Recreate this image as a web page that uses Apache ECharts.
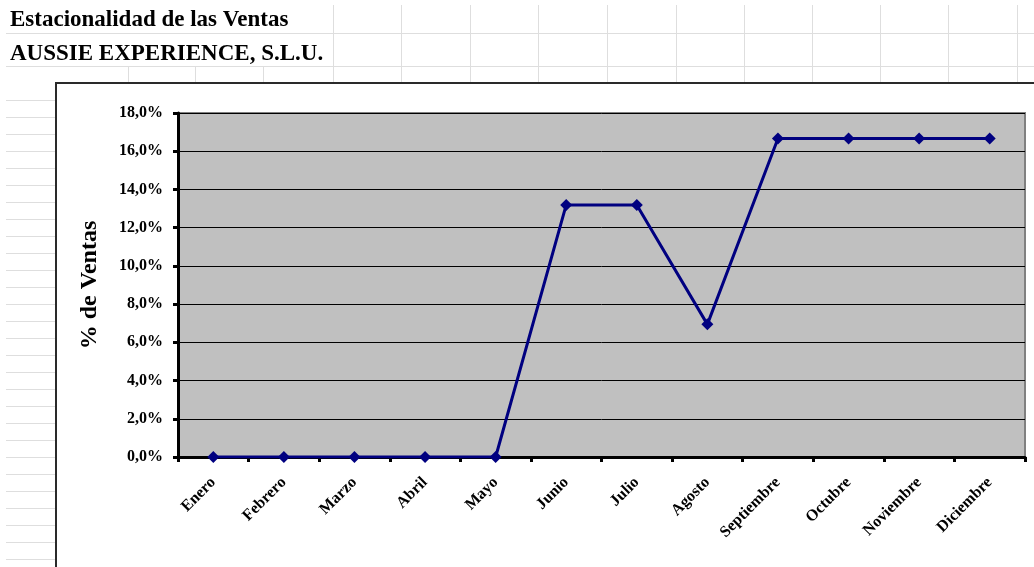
<!DOCTYPE html>
<html>
<head>
<meta charset="utf-8">
<script src="https://cdn.jsdelivr.net/npm/echarts@6/dist/echarts.min.js"></script>
<style>
  html, body { margin: 0; padding: 0; background: #ffffff; }
  #chart { width: 1034px; height: 567px; }
</style>
</head>
<body>
<div id="chart"></div>
<script>
// Monthly share of yearly sales (%)
const months = ['Enero', 'Febrero', 'Marzo', 'Abril', 'Mayo', 'Junio', 'Julio',
  'Agosto', 'Septiembre', 'Octubre', 'Noviembre', 'Diciembre'];
const ventasPct = [0, 0, 0, 0, 0, 13.19, 13.19, 6.94, 16.67, 16.67, 16.67, 16.67];
const titleLines = ['Estacionalidad de las Ventas', 'AUSSIE EXPERIENCE, S.L.U.'];
const axisName = '% de Ventas';
const yMin = 0, yMax = 18, yStep = 2;

const SERIF = '"Liberation Serif", "Times New Roman", serif';
const CELL = '#dedede';

// worksheet cell borders around the embedded chart
const sheet = [];
const hLine = (x1, x2, y) => sheet.push({ type: 'line', z: -20, silent: true,
  shape: { x1, y1: y + 0.5, x2, y2: y + 0.5 }, style: { stroke: CELL, lineWidth: 1 } });
const vLine = (x, y1, y2) => sheet.push({ type: 'line', z: -20, silent: true,
  shape: { x1: x + 0.5, y1, x2: x + 0.5, y2 }, style: { stroke: CELL, lineWidth: 1 } });

hLine(6, 1034, 33);
hLine(6, 1034, 66);
[333, 401, 470, 538, 607, 676, 744, 812, 880, 948, 1017].forEach(x => vLine(x, 5, 83));
[128, 195, 263].forEach(x => vLine(x, 66, 83));
for (let y = 100; y < 567; y += 17) hLine(6, 55, y);

// chart frame
sheet.push({ type: 'rect', z: -10, silent: true,
  shape: { x: 56, y: 83, width: 1010, height: 520 },
  style: { fill: '#ffffff', stroke: '#2a2a2a', lineWidth: 2 } });

// sheet headings
titleLines.forEach((t, i) => sheet.push({ type: 'text', z: 5, silent: true,
  x: 10, y: 20 + i * 34,
  style: { text: t, font: 'bold 23px ' + SERIF, fill: '#000', verticalAlign: 'middle', align: 'left' } }));

const chart = echarts.init(document.getElementById('chart'), null, { renderer: 'canvas' });
chart.setOption({
  animation: false,
  backgroundColor: '#ffffff',
  graphic: sheet,
  grid: {
    left: 178, right: 9, top: 113, bottom: 110,
    show: true, backgroundColor: '#c0c0c0', borderColor: '#808080', borderWidth: 2
  },
  xAxis: {
    type: 'category',
    data: months,
    boundaryGap: true,
    axisLine: { show: true, lineStyle: { color: '#000', width: 3 } },
    axisTick: { show: true, length: 5, lineStyle: { color: '#000', width: 3 } },
    axisLabel: {
      rotate: 45, margin: 23, interval: 0,
      fontFamily: SERIF, fontWeight: 'bold', fontSize: 16, color: '#000'
    },
    splitLine: { show: false }
  },
  yAxis: {
    type: 'value',
    min: yMin, max: yMax, interval: yStep,
    name: axisName,
    nameLocation: 'middle',
    nameGap: 76,
    nameRotate: 90,
    nameTextStyle: { fontFamily: SERIF, fontWeight: 'bold', fontSize: 24, color: '#000' },
    axisLine: { show: true, lineStyle: { color: '#000', width: 3 } },
    axisTick: { show: true, length: 5, lineStyle: { color: '#000', width: 3 } },
    axisLabel: {
      margin: 15,
      fontFamily: SERIF, fontWeight: 'bold', fontSize: 16, color: '#000',
      formatter: v => v.toFixed(1).replace('.', ',') + '%'
    },
    splitLine: { show: true, lineStyle: { color: '#000', width: 1 } }
  },
  series: [{
    type: 'line',
    data: ventasPct,
    symbol: 'diamond',
    symbolSize: 12,
    lineStyle: { color: '#000080', width: 3 },
    itemStyle: { color: '#000080' },
    z: 5
  }]
});
</script>
</body>
</html>
